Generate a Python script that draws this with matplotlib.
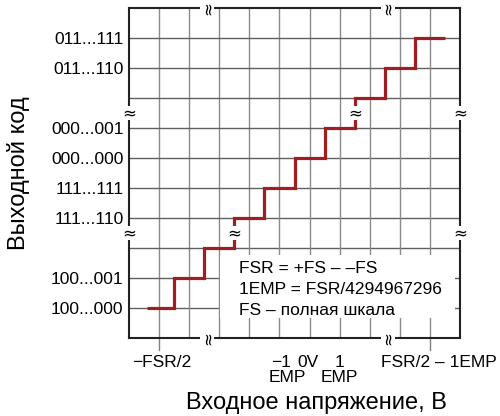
import matplotlib
matplotlib.use("Agg")
import matplotlib.pyplot as plt

plt.rcParams['font.family'] = ['Liberation Sans', 'DejaVu Sans']

# staircase: code level per step and step edges (grid units)
step_edges = [0.6, 1.5, 2.5, 3.5, 4.5, 5.5, 6.5, 7.5, 8.5, 9.5, 10.5]
step_codes = [1, 2, 3, 4, 5, 6, 7, 8, 9, 10]

code_pos = [1, 2, 4, 5, 6, 7, 9, 10]
code_labels = ['100...000', '100...001', '111...110', '111...111',
               '000...000', '000...001', '011...110', '011...111']

# x labels: (x, text)
x_labels = [(1.1, '−FSR/2'), (5.05, '−1'), (5.25, 'EMP'), (5.95, '0V'),
            (7.0, '1'), (7.0, 'EMP'), (10.3, 'FSR/2 – 1EMP')]
x_label_row = [0, 0, 1, 0, 0, 1, 0]
x_tick_pos = [1, 10]

breaks_y = [3.5, 7.5]
breaks_x = [2.6, 8.6]

notes = ['FSR = +FS – –FS', '1EMP = FSR/4294967296', 'FS – полная шкала']

fig = plt.figure(figsize=(5, 4.16), dpi=100)
ax = fig.add_axes([0.258, 0.1875, 0.662, 0.7935])
ax.set_xlim(0, 11)
ax.set_ylim(0, 11)

for i in range(1, 11):
    ax.axhline(i, color='#606060', lw=1.0, zorder=1)
    ax.axvline(i, color='#8a8a8a', lw=1.0, zorder=1)

# white box with notes
ax.add_patch(plt.Rectangle((3.04, 0.67), 7.8, 2.1, facecolor='white',
                           edgecolor='none', zorder=2))
for k, t in enumerate(notes):
    ax.text(3.65, 2.33 - k * 0.71, t, fontsize=12.5, va='center', ha='left', zorder=3)

ax.stairs(step_codes, step_edges, baseline=None, color='#a01e22', lw=2.3, zorder=4)

for s in ax.spines.values():
    s.set_linewidth(1.5)
    s.set_color('#222222')

ax.set_xticks([])
ax.set_yticks(code_pos)
ax.set_yticklabels(code_labels, fontsize=12.5)
ax.tick_params(axis='y', length=0, pad=4)

for xp in x_tick_pos:
    ax.plot([xp, xp], [0, -0.4], color='#808080', lw=1.0, clip_on=False)
for (xp, t), r in zip(x_labels, x_label_row):
    ax.text(xp, -0.8 - r * 0.52, t, fontsize=12.5, ha='center', va='center')

bb = dict(facecolor='white', edgecolor='none', pad=-1.5)
for yb in breaks_y:
    for xb in (0, 11):
        ax.text(xb, yb, '≈', fontsize=12, ha='center', va='center', zorder=6,
                bbox=bb, clip_on=False, family='DejaVu Sans')
    ax.text(yb, yb, '≈', fontsize=12, ha='center', va='center', zorder=6,
            bbox=bb, family='DejaVu Sans')
for xb in breaks_x:
    for yb in (0, 11):
        ax.text(xb, yb, '≈', fontsize=12, ha='center', va='center', zorder=6,
                rotation=90, bbox=bb, clip_on=False, family='DejaVu Sans')

ax.set_ylabel('Выходной код', fontsize=17, labelpad=15)
fig.text(0.632, 0.032, 'Входное напряжение, В', fontsize=17, ha='center', va='center')

fig.savefig('out.png', dpi=100)
